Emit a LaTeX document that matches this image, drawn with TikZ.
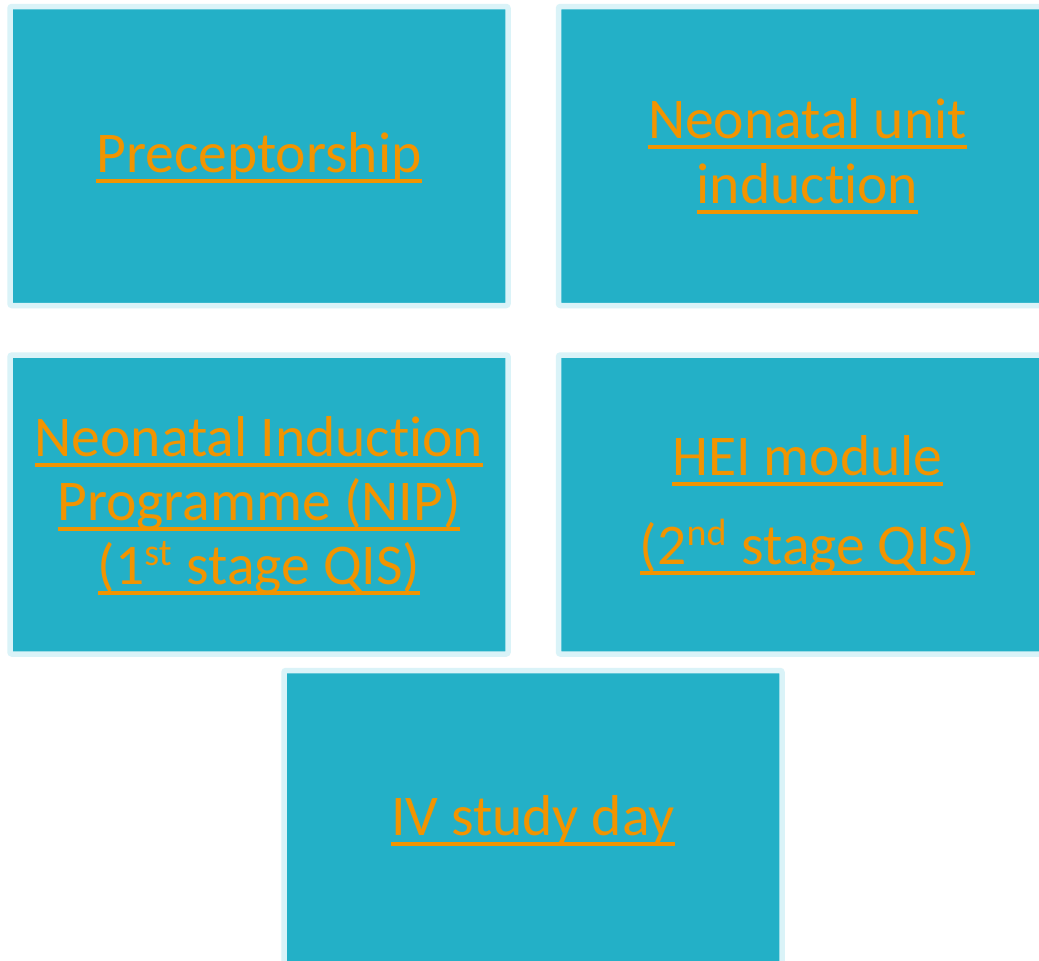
\documentclass[tikz,border=0pt]{standalone}
\usepackage{fontspec}
\setmainfont[Ligatures=NoCommon]{Carlito}
\definecolor{boxteal}{RGB}{35,176,199}
\definecolor{boxedge}{RGB}{218,243,248}
\definecolor{txtorange}{RGB}{242,148,0}
\newcommand\myul[1]{\setbox0\hbox{#1}\rlap{\rule[-10.75pt]{\wd0}{3.5pt}}\box0}
\newcommand\mysup[1]{\raisebox{19pt}{\fontsize{38pt}{38pt}\selectfont #1}\hspace{2pt}}
\tikzset{
  tile/.style={draw=boxedge, fill=boxteal, line width=5.5pt, rounded corners=2pt,
    minimum width=498pt, minimum height=299pt, inner sep=0pt},
  lbl/.style={anchor=base, text=txtorange, inner sep=0pt,
    font=\fontsize{57.6pt}{64pt}\selectfont}
}
\begin{document}
\begin{tikzpicture}[x=1pt,y=-1pt]
\useasboundingbox (0,0) rectangle (1039,961);
\fill[white] (0,0) rectangle (1039,961);
\clip (0,0) rectangle (1039,961);
\node[tile] (b1) at (259,156) {};
\node[tile] (b2) at (807.5,156) {};
\node[tile] (b3) at (259,504.5) {};
\node[tile] (b4) at (807.5,504.5) {};
\node[tile] (b5) at (533,820) {};
\node[lbl] (t1) at (259,172) {\myul{Preceptorship}};
\node[lbl] (t2a) at (807.5,138) {\myul{Neonatal unit}};
\node[lbl] (t2b) at (807.5,203) {\myul{induction}};
\node[lbl] (t3a) at (259,456) {\myul{Neonatal Induction}};
\node[lbl] (t3b) at (259,520) {\myul{Programme (NIP)}};
\node[lbl] (t3c) at (259,584) {\myul{(1\mysup{st} stage QIS)}};
\node[lbl] (t4a) at (807.5,475) {\myul{HEI module}};
\node[lbl] (t4b) at (807.5,564) {\myul{(2\mysup{nd} stage QIS)}};
\node[lbl] (t5) at (533,835) {\myul{IV study day}};
\end{tikzpicture}
\end{document}
